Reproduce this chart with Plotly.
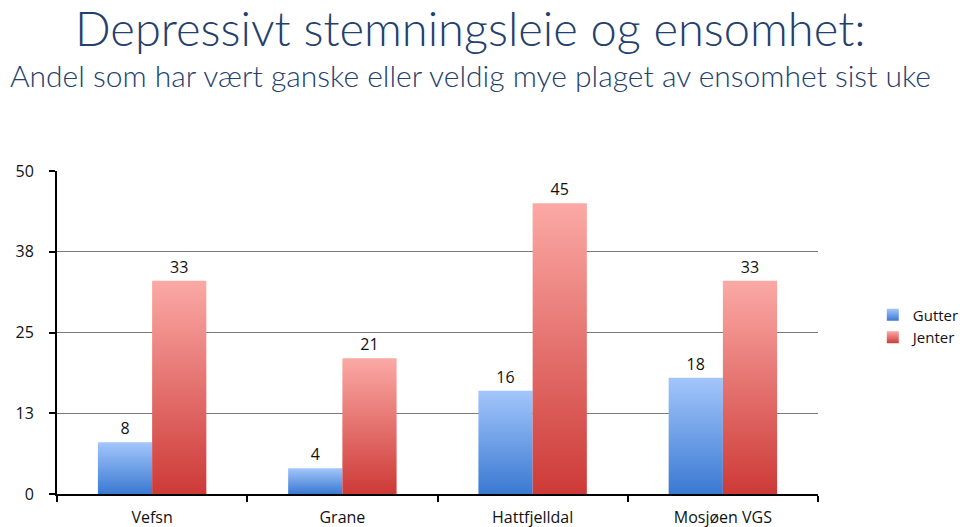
"""Depressivt stemningsleie og ensomhet - grouped bars per school/municipality."""

import plotly.graph_objects as go

# Data
categories = ["Vefsn", "Grane", "Hattfjelldal", "Mosjøen VGS"]
gutter = [8, 4, 16, 18]
jenter = [33, 21, 45, 33]
y_tickvals = [0, 12.5, 25, 37.5, 50]
y_ticktext = ["0", "13", "25", "38", "50"]

title_color = "#24406e"
label_font = dict(family="Open Sans, Liberation Sans, sans-serif", size=16, color="#111111")  # noqa: C408

fig = go.Figure()
fig.add_trace(
    go.Bar(
        x=categories,
        y=gutter,
        name="Gutter",
        marker=dict(color="#6c9be2", line=dict(width=0)),  # noqa: C408
        text=gutter,
        textposition="outside",
        textfont=label_font,
        cliponaxis=False,
    )
)
fig.add_trace(
    go.Bar(
        x=categories,
        y=jenter,
        name="Jenter",
        marker=dict(color="#e46b68", line=dict(width=0)),  # noqa: C408
        text=jenter,
        textposition="outside",
        textfont=label_font,
        cliponaxis=False,
    )
)

fig.update_layout(
    width=960,
    height=527,
    margin=dict(l=57, r=142, t=171, b=33, autoexpand=False),  # noqa: C408
    paper_bgcolor="white",
    plot_bgcolor="white",
    barmode="group",
    bargap=0.43,
    bargroupgap=0,
    font=label_font,
    showlegend=True,
    legend=dict(  # noqa: C408
        x=1.072,
        y=0.52,
        xanchor="left",
        yanchor="middle",
        font=dict(family="Open Sans, sans-serif", size=15, color="#111111"),  # noqa: C408
        itemwidth=30,
        tracegroupgap=0,
    ),
    xaxis=dict(  # noqa: C408
        showline=True,
        linecolor="black",
        linewidth=2,
        ticks="outside",
        tickson="boundaries",
        ticklen=6,
        tickwidth=1.5,
        tickcolor="black",
        showgrid=False,
        tickfont=label_font,
        ticklabelstandoff=8,
        automargin=False,
    ),
    yaxis=dict(  # noqa: C408
        range=[0, 50],
        tickvals=y_tickvals,
        ticktext=y_ticktext,
        showline=True,
        linecolor="black",
        linewidth=2,
        ticks="outside",
        ticklen=6,
        tickwidth=1.5,
        tickcolor="black",
        showgrid=True,
        gridcolor="#7a7a7a",
        gridwidth=1,
        zeroline=False,
        tickfont=label_font,
        ticklabelstandoff=12,
        automargin=False,
    ),
    annotations=[
        dict(  # noqa: C408
            text="Depressivt stemningsleie og ensomhet:",
            xref="paper",
            yref="paper",
            x=0.544,
            y=1.443,
            xanchor="center",
            yanchor="middle",
            showarrow=False,
            font=dict(family="Lato, sans-serif", size=47, color=title_color, weight=300),  # noqa: C408
        ),
        dict(  # noqa: C408
            text="Andel som har vært ganske eller veldig mye plaget av ensomhet sist uke",
            xref="paper",
            yref="paper",
            x=0.544,
            y=1.297,
            xanchor="center",
            yanchor="middle",
            showarrow=False,
            font=dict(family="Lato, sans-serif", size=30, color=title_color, weight=300),  # noqa: C408
        ),
    ],
)

# Vertical gradients on the bars (light at top, dark at bottom), as in the original
gradient_js = """
document.body.style.margin = '0';
var gd = document.getElementById('{plot_id}');
function paintBars() {
  var svg = gd.querySelector('.main-svg');
  var defs = svg.querySelector('defs');
  var ns = 'http://www.w3.org/2000/svg';
  function grad(id, top, bottom) {
    if (document.getElementById(id)) return;
    var g = document.createElementNS(ns, 'linearGradient');
    g.setAttribute('id', id);
    g.setAttribute('x1', '0'); g.setAttribute('y1', '0');
    g.setAttribute('x2', '0'); g.setAttribute('y2', '1');
    [[0, top], [1, bottom]].forEach(function (s) {
      var st = document.createElementNS(ns, 'stop');
      st.setAttribute('offset', s[0]);
      st.setAttribute('stop-color', s[1]);
      g.appendChild(st);
    });
    defs.appendChild(g);
  }
  grad('gradGutter', '#a3c6fb', '#3a79d2');
  grad('gradJenter', '#fba9a5', '#cd3a37');
  var ids = ['gradGutter', 'gradJenter'];
  gd.querySelectorAll('.barlayer .trace').forEach(function (tr, i) {
    tr.querySelectorAll('path').forEach(function (p) {
      p.style.fill = 'url(#' + ids[i] + ')';
    });
  });
  gd.querySelectorAll('.legend .traces').forEach(function (tr, i) {
    tr.querySelectorAll('.legendpoints path').forEach(function (p) {
      p.style.fill = 'url(#' + ids[i] + ')';
    });
  });
}
paintBars();
gd.on('plotly_afterplot', paintBars);
"""

fig.write_html("out.html", post_script=gradient_js, config={"displayModeBar": False})
